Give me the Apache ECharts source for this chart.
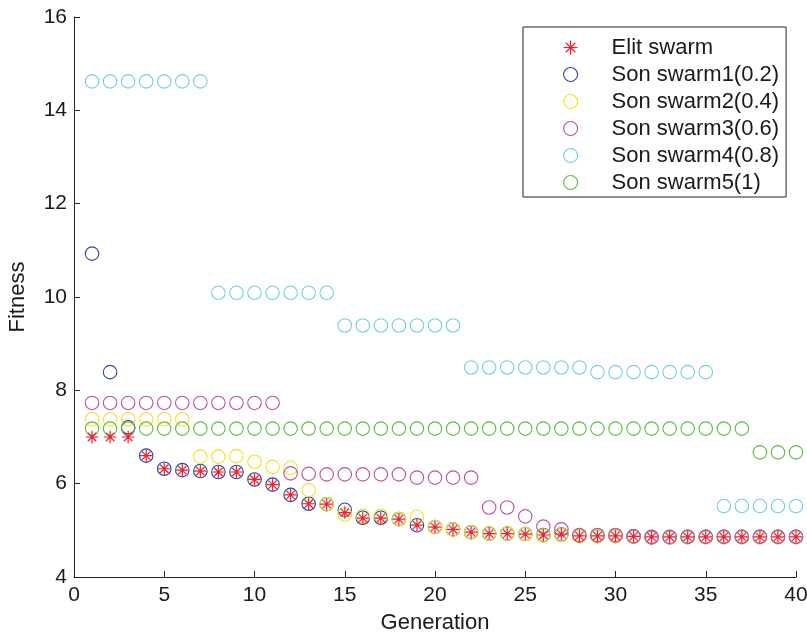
<!DOCTYPE html>
<html>
<head>
<meta charset="utf-8">
<script src="https://cdn.jsdelivr.net/npm/echarts@6/dist/echarts.min.js"></script>
<style>html,body{margin:0;padding:0;background:#fff}#c{width:807px;height:637px}</style>
</head>
<body>
<div id="c"></div>
<script>
const generations = [1,2,3,4,5,6,7,8,9,10,11,12,13,14,15,16,17,18,19,20,21,22,23,24,25,26,27,28,29,30,31,32,33,34,35,36,37,38,39,40];
const xTicks = [0,5,10,15,20,25,30,35,40];
const yTicks = [4,6,8,10,12,14,16];
const seriesNames = ['Elit swarm','Son swarm1(0.2)','Son swarm2(0.4)','Son swarm3(0.6)','Son swarm4(0.8)','Son swarm5(1)'];

const elite  = [7.00,7.00,7.00,6.60,6.32,6.29,6.27,6.25,6.25,6.09,5.98,5.76,5.57,5.56,5.38,5.26,5.26,5.24,5.11,5.07,5.02,4.96,4.93,4.93,4.92,4.90,4.92,4.88,4.88,4.88,4.87,4.86,4.86,4.86,4.86,4.86,4.86,4.86,4.86,4.86];
const swarm1 = [10.93,8.39,7.21,6.60,6.32,6.29,6.27,6.25,6.25,6.09,5.98,5.76,5.57,5.56,5.44,5.27,5.27,5.24,5.11,5.07,5.02,4.96,4.93,4.93,4.92,4.90,4.91,4.88,4.88,4.88,4.87,4.85,4.85,4.86,4.86,4.86,4.86,4.86,4.86,4.86];
const swarm2 = [7.38,7.38,7.38,7.38,7.38,7.38,6.58,6.58,6.59,6.47,6.36,6.34,5.86,5.56,5.34,5.31,5.31,5.24,5.29,5.07,5.02,4.96,4.93,4.93,4.92,4.89,4.90,4.87,4.87,4.87,4.86,4.86,4.85,4.85,4.85,4.85,4.85,4.85,4.85,4.85];
const swarm3 = [7.73,7.73,7.73,7.73,7.73,7.73,7.73,7.73,7.73,7.73,7.73,6.22,6.21,6.20,6.20,6.20,6.20,6.20,6.13,6.13,6.13,6.13,5.49,5.49,5.30,5.08,5.02,4.90,4.90,4.90,4.87,4.86,4.86,4.86,4.86,4.86,4.86,4.86,4.86,4.86];
const swarm4 = [14.62,14.62,14.62,14.62,14.62,14.62,14.62,10.09,10.09,10.09,10.09,10.09,10.09,10.09,9.39,9.39,9.39,9.39,9.39,9.39,9.39,8.49,8.49,8.49,8.49,8.49,8.49,8.49,8.39,8.39,8.39,8.39,8.39,8.39,8.39,5.52,5.52,5.52,5.52,5.52];
const swarm5 = [7.18,7.18,7.18,7.18,7.18,7.18,7.18,7.18,7.18,7.18,7.18,7.18,7.18,7.18,7.18,7.18,7.18,7.18,7.18,7.18,7.18,7.18,7.18,7.18,7.18,7.18,7.18,7.18,7.18,7.18,7.18,7.18,7.18,7.18,7.18,7.18,7.18,6.67,6.67,6.67];

const colors = {elite:'#f0222e', s1:'#2d45a6', s2:'#f2e41c', s3:'#c04ea6', s4:'#72cfe2', s5:'#5cbd3c'};
const FONT = "'Liberation Sans', Arial, Helvetica, sans-serif";
const ASTERISK = 'path://M0,5L10,5M5,0L5,10M1.6,1.6L8.4,8.4M8.4,1.6L1.6,8.4';

function pts(arr){ return generations.map((g,i)=>[g,arr[i]]); }
function circleSeries(name, arr, color){
  return {
    name, type:'scatter', data: pts(arr), symbol:'circle', symbolSize:13.5,
    itemStyle:{color:'rgba(0,0,0,0)', borderColor:color, borderWidth:1.1, opacity:1},
    emphasis:{disabled:true}, silent:true
  };
}

const chart = echarts.init(document.getElementById('c'), null, {renderer:'canvas'});
chart.setOption({
  animation:false,
  backgroundColor:'#fff',
  textStyle:{fontFamily:FONT},
  grid:{left:74, right:11, top:17, bottom:60, containLabel:false, outerBoundsMode:'none'},
  xAxis:{
    type:'value', min:xTicks[0], max:xTicks[xTicks.length-1], interval:5,
    name:'Generation', nameLocation:'middle', nameGap:35,
    nameTextStyle:{fontSize:22, color:'#1a1a1a', fontFamily:FONT},
    axisLine:{show:true, lineStyle:{color:'#222', width:1}},
    axisTick:{show:true, inside:true, length:6, lineStyle:{color:'#222'}},
    axisLabel:{fontSize:21, color:'#1a1a1a', margin:8, fontFamily:FONT},
    splitLine:{show:false}
  },
  yAxis:{
    type:'value', min:yTicks[0], max:yTicks[yTicks.length-1], interval:2,
    name:'Fitness', nameLocation:'middle', nameGap:45,
    nameTextStyle:{fontSize:22, color:'#1a1a1a', fontFamily:FONT},
    axisLine:{show:true, lineStyle:{color:'#222', width:1}},
    axisTick:{show:true, inside:true, length:6, lineStyle:{color:'#222'}},
    axisLabel:{fontSize:21, color:'#1a1a1a', margin:7, fontFamily:FONT},
    splitLine:{show:false}
  },
  legend:{
    show:true, orient:'vertical', left:523, top:27,
    padding:[7,7,1,40], itemGap:0, itemWidth:14, itemHeight:14,
    borderColor:'#222', borderWidth:1, backgroundColor:'#fff',
    selectedMode:false,
    textStyle:{fontSize:22, color:'#1a1a1a', fontFamily:FONT, lineHeight:27, padding:[0,0,0,29]},
    data: seriesNames.map((n,i)=>({name:n, itemStyle:{borderWidth: i===0?1.2:1.1}}))
  },
  series:[
    circleSeries(seriesNames[1], swarm1, colors.s1),
    circleSeries(seriesNames[2], swarm2, colors.s2),
    circleSeries(seriesNames[3], swarm3, colors.s3),
    circleSeries(seriesNames[4], swarm4, colors.s4),
    circleSeries(seriesNames[5], swarm5, colors.s5),
    {
      name:seriesNames[0], type:'scatter', data:pts(elite), symbol:ASTERISK, symbolSize:12.5,
      symbolKeepAspect:true,
      itemStyle:{color:'rgba(0,0,0,0)', borderColor:colors.elite, borderWidth:1.2, opacity:1},
      emphasis:{disabled:true}, silent:true
    }
  ]
});
</script>
</body>
</html>
